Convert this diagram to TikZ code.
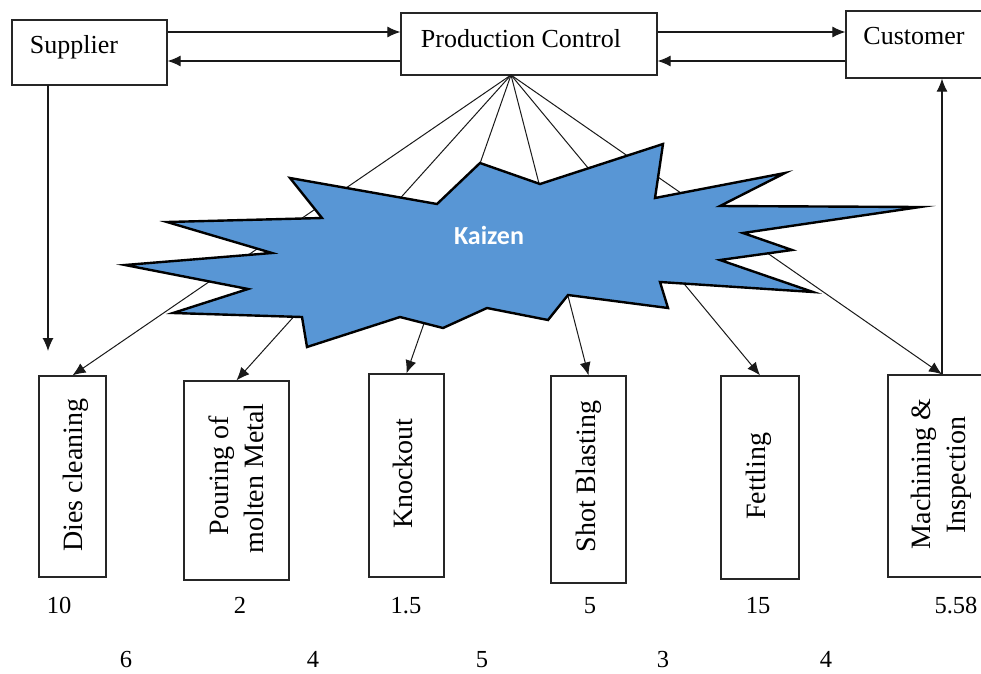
\documentclass[tikz,border=0pt]{standalone}
\usepackage{fontspec}
\setmainfont{Liberation Serif}
\newfontfamily\kaizenfont{Carlito}
\usetikzlibrary{arrows.meta,calc}
\definecolor{starblue}{RGB}{88,150,213}

\begin{document}
\begin{tikzpicture}[x=1pt,y=-1pt,
  box/.style={draw=black!85, line width=1.3pt, fill=white, inner sep=0pt},
  lbl/.style={font=\fontsize{26}{30}\selectfont, inner sep=0pt, anchor=base},
  vlbl/.style={font=\fontsize{28}{32}\selectfont, inner sep=0pt, anchor=base, rotate=90},
  num/.style={font=\fontsize{24.5}{28}\selectfont, inner sep=0pt, anchor=base},
  conn/.style={draw=black!90, line width=1.1pt, -{Latex[length=13pt,width=11pt]}},
  ray/.style={draw=black!90, line width=1pt, -{Latex[length=13pt,width=11pt]}},
]
\clip (0,0) rectangle (981,673);
\fill[white] (0,0) rectangle (981,673);

% top row
\node[box, minimum width=155pt, minimum height=65pt] (sup)  at (89.5,52.5) {};
\node[box, minimum width=256pt, minimum height=62pt] (pc)   at (529,44) {};
\node[box, minimum width=140pt, minimum height=67pt] (cust) at (916,44.5) {};
\node[lbl] (supT)  at (74,53)  {Supplier};
\node[lbl] (pcT)   at (521,47) {Production Control};
\node[lbl] (custT) at (914,44) {Customer};

% process boxes
\node[box, minimum width=67pt,  minimum height=201pt] (dies)  at (72.5,476.5) {};
\node[box, minimum width=105pt, minimum height=199pt] (pour)  at (236.5,480.5) {};
\node[box, minimum width=75pt,  minimum height=203pt] (knock) at (406.5,475.5) {};
\node[box, minimum width=75pt,  minimum height=207pt] (shot)  at (588.5,479.5) {};
\node[box, minimum width=78pt,  minimum height=203pt] (fett)  at (760,477.5) {};
\node[box, minimum width=108pt, minimum height=202pt] (mach)  at (942,476) {};

\node[vlbl] (diesT)  at (82,475)    {Dies cleaning};
\node[vlbl] (pourA)  at (228,475.5) {Pouring of};
\node[vlbl] (pourB)  at (263,478.5) {molten Metal};
\node[vlbl] (knockT) at (412,473.5) {Knockout};
\node[vlbl] (shotT)  at (595,476.5) {Shot Blasting};
\node[vlbl] (fettT)  at (765,476)   {Fettling};
\node[vlbl] (machA)  at (930,474)   {Machining \&};
\node[vlbl] (machB)  at (965,475)   {Inspection};

% times
\node[num] (t1) at (59,613)  {10};
\node[num] (t2) at (240,613) {2};
\node[num] (t3) at (406,613) {1.5};
\node[num] (t4) at (590,613) {5};
\node[num] (t5) at (758,613) {15};
\node[num] (t6) at (956,613) {5.58};
\node[num] (w1) at (126,667) {6};
\node[num] (w2) at (313,667) {4};
\node[num] (w3) at (482,667) {5};
\node[num] (w4) at (663,667) {3};
\node[num] (w5) at (826,667) {4};

% information flow
\coordinate (yhi) at (0,32);
\coordinate (ylo) at (0,61);
\draw[conn] (sup.east |- yhi) -- (pc.west |- yhi);
\draw[conn] (pc.west |- ylo) -- (sup.east |- ylo);
\draw[conn] (pc.east |- yhi) -- (cust.west |- yhi);
\draw[conn] (cust.west |- ylo) -- (pc.east |- ylo);

% material flow
\coordinate (supOut) at (48,85);
\coordinate (supEnd) at (48,351);
\draw[conn] (supOut) -- (supEnd);
\draw[conn] (mach.north) -- (mach.north |- cust.south);

% rays from production control
\coordinate (fan) at (511,75);
\draw[ray] (fan) -- (dies.north);
\draw[ray] (fan) -- (pour.north);
\draw[ray] (fan) -- (knock.north);
\draw[ray] (fan) -- (shot.north);
\draw[ray] (fan) -- (fett.north);
\draw[ray] (fan) -- (mach.north);

% kaizen burst
\draw[fill=starblue, draw=black, line width=2.4pt, line join=miter, miter limit=20]
  (290,178) -- (437,204) -- (480,163) -- (540,184) -- (663,144) -- (655,198)
  -- (785,173) -- (720,206) -- (920,207) -- (743,233) -- (792,250) -- (720,260)
  -- (813,292) -- (660,282) -- (668,308) -- (568,295) -- (548,320) -- (487,308)
  -- (443,328) -- (400,317) -- (307,347) -- (302,317) -- (173,313) -- (248,289)
  -- (125,265) -- (272,253) -- (167,222) -- (322,218) -- cycle;
\node[font=\kaizenfont\bfseries\fontsize{26}{30}\selectfont, text=white,
      anchor=base, inner sep=0pt] (kz) at (489,244) {Kaizen};
\end{tikzpicture}
\end{document}
